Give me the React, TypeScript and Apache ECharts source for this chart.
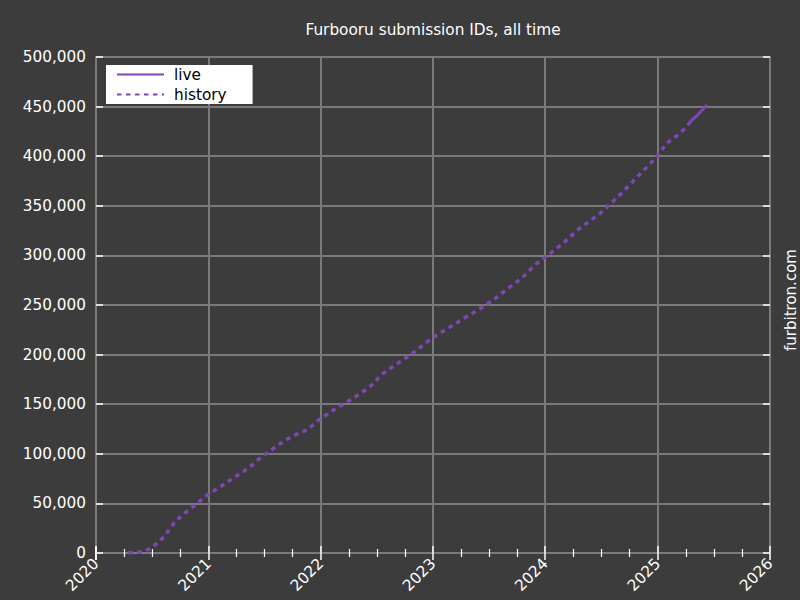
import React, { useEffect, useRef } from 'react';
import * as echarts from 'echarts';

// history series (date, submission id)
const historyDates = [
  '2020-04-15', '2020-06-01', '2020-06-28', '2020-08-10', '2020-08-25', '2020-09-12',
  '2020-10-08', '2020-11-15', '2020-12-28', '2021-02-17', '2021-04-01', '2021-04-27',
  '2021-05-19', '2021-06-10', '2021-07-01', '2021-08-15', '2021-10-01', '2021-11-18',
  '2021-12-28', '2022-02-20', '2022-03-20', '2022-05-08', '2022-06-10', '2022-07-23',
  '2022-09-16', '2022-11-02', '2023-01-01', '2023-02-24', '2023-04-20', '2023-06-06',
  '2023-07-16', '2023-09-02', '2023-10-16', '2023-11-28', '2024-01-10', '2024-02-25',
  '2024-04-22', '2024-06-28', '2024-08-25', '2024-10-22', '2024-12-24', '2025-01-30',
  '2025-03-15', '2025-04-18'
];
const historyIds = [
  0, 1300, 4700, 16400, 23200, 30600,
  38300, 47400, 58500, 68500, 77600, 82700,
  87700, 93700, 98800, 108900, 117900, 124000,
  134800, 145900, 150900, 160300, 167700, 181100,
  192800, 202900, 217400, 227500, 238200, 246700,
  255000, 266800, 276900, 290300, 300400, 311500,
  327300, 342400, 359200, 377700, 397900, 413000,
  423100, 434800
];

const liveDates = ['2025-04-16', '2025-05-10', '2025-06-10'];
const liveIds = [434600, 441500, 451600];

const yTicks = { min: 0, max: 500000, interval: 50000 };
const xRange = { min: '2020-01-01', max: '2026-01-01' };

const FONT = 'DejaVu Sans';
const PURPLE = '#8045b8';
const GRID = '#7a7a7a';
const BG = '#3c3c3c';
const YEAR = 365 * 24 * 3600 * 1000;

const App: React.FC = () => {
  const ref = useRef<HTMLDivElement>(null);

  useEffect(() => {
    if (!ref.current) return;
    document.body.style.margin = '0';
    const chart = echarts.init(ref.current, undefined, { renderer: 'svg' });

    const xBase = {
      type: 'time' as const,
      min: xRange.min,
      max: xRange.max,
      minInterval: YEAR,
      maxInterval: YEAR * 1.01,
      axisLine: { show: true, lineStyle: { color: GRID, width: 2 } },
      axisTick: { show: true, inside: true, length: 7, lineStyle: { color: '#fff', width: 1.5 } },
      minorTick: { show: true, splitNumber: 4, length: 4, lineStyle: { color: '#fff', width: 1.2 } }
    };
    const yBase = {
      type: 'value' as const,
      ...yTicks,
      axisLine: { show: true, lineStyle: { color: GRID, width: 2 } },
      axisTick: { show: true, inside: true, length: 7, lineStyle: { color: '#fff', width: 1.5 } }
    };

    chart.setOption({
      animation: false,
      backgroundColor: BG,
      grid: { left: 96, right: 30, top: 57, bottom: 47 },
      graphic: [
        {
          type: 'text',
          x: 433,
          y: 30,
          style: {
            text: 'Furbooru submission IDs, all time',
            fill: '#fff',
            font: `15.3px "${FONT}"`,
            align: 'center',
            verticalAlign: 'middle'
          }
        },
        {
          type: 'text',
          x: 791,
          y: 300,
          rotation: Math.PI / 2,
          style: {
            text: 'furbitron.com',
            fill: '#fff',
            font: `15px "${FONT}"`,
            align: 'center',
            verticalAlign: 'middle'
          }
        }
      ],
      legend: {
        left: 106,
        top: 65,
        orient: 'vertical',
        backgroundColor: '#fff',
        borderRadius: 0,
        padding: [2, 26, 2, 10],
        itemGap: 5,
        itemWidth: 47,
        itemHeight: 14,
        itemStyle: { color: 'rgba(0,0,0,0)', borderWidth: 0 },
        textStyle: { color: '#000', fontFamily: FONT, fontSize: 15.3, padding: [0, 0, 0, 5] },
        data: ['live', 'history']
      },
      xAxis: [
        {
          ...xBase,
          position: 'bottom',
          splitLine: { show: true, lineStyle: { color: GRID, width: 2 } },
          axisLabel: {
            color: '#fff',
            fontFamily: FONT,
            fontSize: 15.3,
            rotate: 45,
            margin: 8,
            showMinLabel: true,
            showMaxLabel: true,
            formatter: (v: number) => String(new Date(v).getFullYear())
          }
        },
        {
          ...xBase,
          position: 'top',
          splitLine: { show: false },
          axisLabel: { show: false }
        }
      ],
      yAxis: [
        {
          ...yBase,
          position: 'left',
          splitLine: { show: true, lineStyle: { color: GRID, width: 2 } },
          axisLabel: {
            color: '#fff',
            fontFamily: FONT,
            fontSize: 15.3,
            margin: 10,
            formatter: (v: number) => v.toLocaleString('en-US')
          }
        },
        {
          ...yBase,
          position: 'right',
          splitLine: { show: false },
          axisLabel: { show: false }
        }
      ],
      series: [
        {
          name: 'live',
          type: 'line',
          symbol: 'none',
          lineStyle: { color: PURPLE, width: 3 },
          itemStyle: { color: PURPLE },
          data: liveDates.map((d, i) => [d, liveIds[i]])
        },
        {
          name: 'history',
          type: 'line',
          symbol: 'none',
          lineStyle: { color: PURPLE, width: 3.5, type: [4.5, 4.5] },
          itemStyle: { color: PURPLE },
          data: historyDates.map((d, i) => [d, historyIds[i]])
        }
      ]
    });

    return () => chart.dispose();
  }, []);

  return <div ref={ref} style={{ width: 800, height: 600 }} />;
};

export default App;
